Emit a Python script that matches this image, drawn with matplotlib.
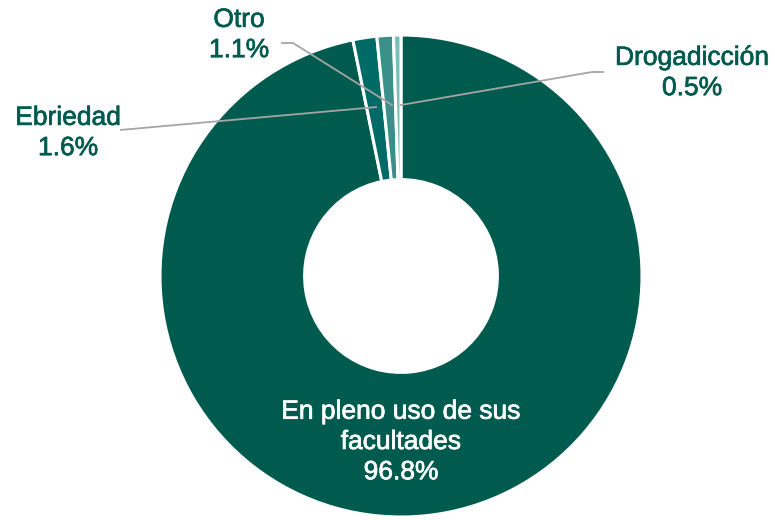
import matplotlib
matplotlib.use("Agg")
import matplotlib.pyplot as plt
import matplotlib.patheffects as pe

categories = ["En pleno uso de sus\nfacultades", "Ebriedad", "Otro", "Drogadicción"]
values = [96.8, 1.6, 1.1, 0.5]
value_labels = ["96.8%", "1.6%", "1.1%", "0.5%"]
colors = ["#005B4F", "#006A66", "#3A8F89", "#7DBDB8"]

plt.rcParams['font.family'] = ['Liberation Sans', 'DejaVu Sans']

W, H = 775, 520
fig = plt.figure(figsize=(W / 100, H / 100), dpi=100)
ax = fig.add_axes([0, 0, 1, 1])
ax.set_xlim(0, W)
ax.set_ylim(0, H)
ax.axis('off')

def py(y):
    return H - y

cx, cy, R = 401, py(276), 241
ax.pie(values, colors=colors, startangle=90, counterclock=False,
       center=(cx, cy), radius=R,
       wedgeprops=dict(width=R * 0.6, edgecolor='white', linewidth=2.2))
ax.set_xlim(0, W)
ax.set_ylim(0, H)
ax.set_aspect('auto')

txt_col = "#005B4F"
line_col = "#A5A5A5"
fs = 19
ls = 1.33

def label(x, y, s, color):
    t = ax.text(x, py(y), s, ha='center', va='center', color=color,
                fontsize=fs, linespacing=ls)
    t.set_path_effects([pe.withStroke(linewidth=0.5, foreground=color)])

label(401, 442, categories[0] + "\n" + value_labels[0], 'white')
label(68, 133, categories[1] + "\n" + value_labels[1], txt_col)
label(239, 35, categories[2] + "\n" + value_labels[2], txt_col)
label(692, 73, categories[3] + "\n" + value_labels[3], txt_col)

# leader lines
ax.plot([120, 377], [py(130), py(107)], color=line_col, lw=1.3, solid_capstyle='butt')
ax.plot([282, 293, 392], [py(43), py(43), py(105)], color=line_col, lw=1.3)
ax.plot([603, 592, 401], [py(72), py(72), py(105)], color=line_col, lw=1.3)

fig.savefig("out.png", dpi=100)
